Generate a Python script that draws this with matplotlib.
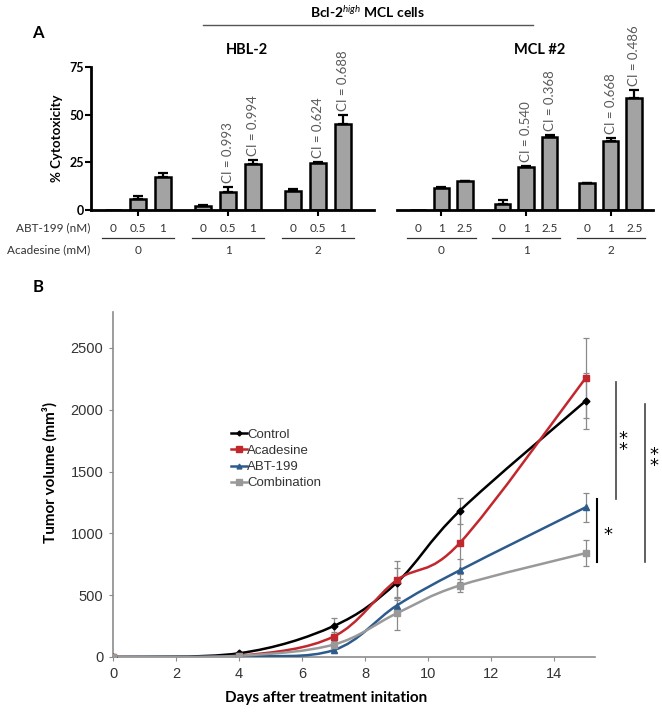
import numpy as np
import matplotlib
matplotlib.use('Agg')
import matplotlib.pyplot as plt
import matplotlib.transforms as mtransforms
from matplotlib.path import Path
from matplotlib.patches import PathPatch
from matplotlib.lines import Line2D

plt.rcParams['font.family'] = ['Lato', 'DejaVu Sans']
plt.rcParams['mathtext.fontset'] = 'custom'
plt.rcParams['mathtext.rm'] = 'Lato'
plt.rcParams['mathtext.it'] = 'Lato:italic'
plt.rcParams['mathtext.bf'] = 'Lato:bold'

# ---- panel A data (% cytotoxicity) ----
acadesine_mM = ['0', '1', '2']
hbl_abt = ['0', '0.5', '1']
hbl_vals = [[0, 5.8, 17.3], [2.1, 9.6, 24.1], [10.0, 24.7, 45.1]]
hbl_err = [[0, 1.6, 2.1], [0.7, 2.4, 2.1], [0.8, 0.3, 4.7]]
hbl_ci = [[None, None, None], [None, '0.993', '0.994'], [None, '0.624', '0.688']]

mcl_abt = ['0', '1', '2.5']
mcl_vals = [[0, 11.5, 15.2], [3.1, 22.7, 38.5], [14.2, 36.4, 58.6]]
mcl_err = [[0, 0.4, 0.2], [2.1, 0.3, 0.8], [0.2, 1.3, 4.3]]
mcl_ci = [[None, None, None], [None, '0.540', '0.368'], [None, '0.668', '0.486']]

# ---- panel B data (tumor volume) ----
days = [0, 4, 7, 9, 11, 15]
control = [0, 30, 250, 600, 1180, 2070]
control_err = [0, 10, 65, 120, 105, 225]
acadesine = [0, 10, 165, 620, 920, 2255]
acadesine_err = [0, 5, 40, 155, 250, 325]
abt199 = [0, 5, 55, 415, 700, 1210]
abt199_err = [0, 5, 20, 60, 90, 120]
combination = [0, 10, 100, 352, 578, 840]
combination_err = [0, 5, 30, 130, 50, 105]

fig = plt.figure(figsize=(6.62, 7.16), dpi=100)
W, H = 662, 716


def px_axes(x0, y0, x1, y1):
    return fig.add_axes([x0 / W, (H - y1) / H, (x1 - x0) / W, (y1 - y0) / H])


gap = 3.6
bar_w = 0.66


def bar_panel(ax, vals, errs, cis, abt, show_left):
    for g in range(3):
        xs = [g * gap + j for j in range(3)]
        ax.bar(xs, vals[g], width=bar_w, color='#a3a3a3', edgecolor='black', linewidth=1.8, zorder=2)
        for j in range(3):
            if errs[g][j] > 0:
                ax.errorbar(xs[j], vals[g][j], yerr=[[0], [errs[g][j]]], color='black',
                            lw=1.6, capsize=3.5, capthick=1.6, zorder=3)
            if cis[g][j]:
                ax.annotate('CI = ' + cis[g][j], (xs[j], vals[g][j] + errs[g][j]),
                            xytext=(0, 3), textcoords='offset points', rotation=90,
                            ha='center', va='bottom', fontsize=9.5, color='#5a5a5a')
    ax.set_ylim(0, 75)
    ax.set_xticks([g * gap + 1 for g in range(3)])
    ax.set_xticklabels([])
    ax.tick_params(axis='x', length=4, width=1.5, direction='out')
    for s in ['top', 'right']:
        ax.spines[s].set_visible(False)
    ax.spines['bottom'].set_linewidth(2)
    if show_left:
        ax.spines['left'].set_linewidth(2)
        ax.set_yticks([0, 25, 50, 75])
        ax.tick_params(axis='y', length=4, width=1.5, labelsize=9, pad=1)
        for t in ax.get_yticklabels():
            t.set_fontweight('bold')
        ax.set_ylabel('% Cytotoxicity', fontsize=9.5, fontweight='bold', labelpad=5)
    else:
        ax.spines['left'].set_visible(False)
        ax.set_yticks([])
    trans = mtransforms.blended_transform_factory(ax.transData, ax.transAxes)
    for g in range(3):
        for j in range(3):
            ax.text(g * gap + j, -0.126, abt[j], transform=trans, ha='center', va='center',
                    fontsize=8.5, color='#333333')
        ax.plot([g * gap - 0.45, g * gap + 2.45], [-0.196, -0.196], transform=trans,
                clip_on=False, color='#333333', lw=0.9)
        ax.text(g * gap + 1, -0.28, acadesine_mM[g], transform=trans, ha='center', va='center',
                fontsize=8.5, color='#333333')


axA1 = px_axes(91, 67, 374, 210)
bar_panel(axA1, hbl_vals, hbl_err, hbl_ci, hbl_abt, True)
axA1.set_xlim(-0.88, 10.44)

axA2 = px_axes(397, 67, 653, 210)
bar_panel(axA2, mcl_vals, mcl_err, mcl_ci, mcl_abt, False)
axA2.set_xlim(-0.89, 10.0)

fig.text(90 / W, (H - 228) / H, 'ABT-199 (nM)', ha='right', va='center', fontsize=8.5, color='#333333')
fig.text(90 / W, (H - 250) / H, 'Acadesine (mM)', ha='right', va='center', fontsize=8.5, color='#333333')

fig.text(368 / W, (H - 12) / H, r'Bcl-2$^{high}$ MCL cells', ha='center', va='center',
         fontsize=10, fontweight='bold')
fig.add_artist(Line2D([203 / W, 533 / W], [(H - 25) / H] * 2, color='#555555', lw=1))
fig.text(247 / W, (H - 50) / H, 'HBL-2', ha='center', va='center', fontsize=10.5, fontweight='bold')
fig.text(540 / W, (H - 50) / H, 'MCL #2', ha='center', va='center', fontsize=10.5, fontweight='bold')
fig.text(38 / W, (H - 33) / H, 'A', ha='center', va='center', fontsize=12, fontweight='bold')
fig.text(38 / W, (H - 287) / H, 'B', ha='center', va='center', fontsize=12, fontweight='bold')

# ---- panel B ----
axB = px_axes(113, 312, 595, 657)
axB.set_xlim(0, 15.3)
axB.set_ylim(0, 2790)


def smooth_path(xs, ys):
    pts = np.column_stack([xs, ys]).astype(float)
    n = len(pts)
    verts = [pts[0]]
    codes = [Path.MOVETO]
    for i in range(n - 1):
        p0 = pts[max(i - 1, 0)]
        p1 = pts[i]
        p2 = pts[i + 1]
        p3 = pts[min(i + 2, n - 1)]
        verts += [p1 + (p2 - p0) / 6, p2 - (p3 - p1) / 6, p2]
        codes += [Path.CURVE4] * 3
    return Path(verts, codes)


series = [
    ('Control', control, control_err, 'black', 'D', 3.5),
    ('Acadesine', acadesine, acadesine_err, '#c1272d', 's', 5),
    ('ABT-199', abt199, abt199_err, '#2d5b8c', '^', 4.5),
    ('Combination', combination, combination_err, '#999999', 's', 5),
]
handles = []
for name, vals, err, col, mk, ms in series:
    axB.errorbar(days, vals, yerr=err, fmt='none', ecolor='#8a8a8a', elinewidth=0.9,
                 capsize=2, capthick=0.9, zorder=2)
    axB.add_patch(PathPatch(smooth_path(days, vals), fill=False, edgecolor=col, lw=1.8, zorder=3))
    axB.plot(days, vals, linestyle='none', marker=mk, color=col, markersize=ms, zorder=4)
    handles.append(Line2D([], [], color=col, lw=1.8, marker=mk, markersize=ms - 1))

leg = axB.legend(handles, [s[0] for s in series], loc='upper left', bbox_to_anchor=(0.245, 0.663),
                 frameon=False, handlelength=1.2, handletextpad=0.0, borderpad=0, borderaxespad=0,
                 labelspacing=0.31, prop={'family': 'Liberation Sans', 'size': 9.5})
for t in leg.get_texts():
    t.set_color('#333333')

axB.set_xticks(range(0, 15, 2))
axB.set_yticks(range(0, 2501, 500))
for s in ['top', 'right']:
    axB.spines[s].set_visible(False)
for s in ['left', 'bottom']:
    axB.spines[s].set_color('#8c8c8c')
    axB.spines[s].set_linewidth(1.2)
axB.tick_params(colors='#8c8c8c', length=3, labelcolor='#333333', labelsize=10.5, pad=4)
for t in axB.get_xticklabels() + axB.get_yticklabels():
    t.set_fontfamily('Liberation Sans')
axB.set_ylabel('Tumor volume (mm³)', fontsize=11, fontweight='bold')
axB.set_xlabel('Days after treatment initation', fontsize=11, fontweight='bold')
axB.yaxis.set_label_coords(-0.116, 0.536)
axB.xaxis.set_label_coords(0.442, -0.099)

# significance brackets
axB.plot([15.97, 15.97], [2225, 1278], color='#444444', lw=1.2, clip_on=False)
axB.plot([16.89, 16.89], [2047, 769], color='#444444', lw=1.2, clip_on=False)
axB.plot([15.37, 15.37], [1278, 769], color='black', lw=1.5, clip_on=False)
star_kw = dict(ha='center', va='center', fontsize=13, family='DejaVu Sans', linespacing=0.5,
               clip_on=False)
axB.text(16.19, 1720, '*\n*', **star_kw)
axB.text(17.17, 1590, '*\n*', **star_kw)
axB.text(15.71, 990, '*', **star_kw)

fig.savefig('out.png', dpi=100)
